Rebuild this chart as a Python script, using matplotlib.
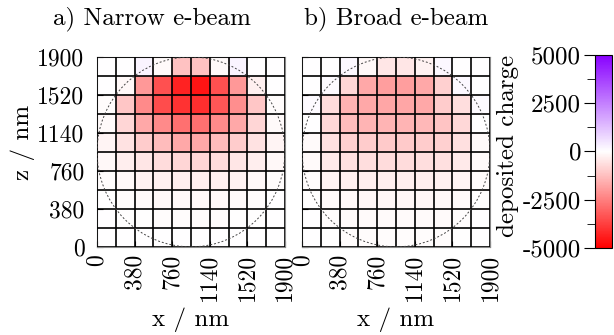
import numpy as np
import matplotlib
matplotlib.use('Agg')
import matplotlib.pyplot as plt
from matplotlib.colors import LinearSegmentedColormap
from matplotlib.patches import Circle

plt.rcParams['font.family'] = ['cmr10', 'DejaVu Serif']
plt.rcParams['axes.formatter.use_mathtext'] = True
plt.rcParams['font.size'] = 18

# cell edges (nm) and tick values
edges = np.arange(0, 1901, 190)
ticks = [0, 380, 760, 1140, 1520, 1900]
cbar_ticks = [-5000, -2500, 0, 2500, 5000]

# deposited charge per cell, rows from z=0 (bottom) to z=1900 (top)
narrow = [
    [0, 0, 0, 0, 0, 0, 0, 0, 0, 0],
    [0, -20, -30, -40, -50, -50, -40, -30, -20, 0],
    [0, -50, -100, -120, -150, -150, -120, -100, -50, 0],
    [-50, -150, -250, -300, -350, -350, -300, -250, -150, -50],
    [-150, -350, -500, -700, -800, -800, -700, -500, -350, -150],
    [-200, -550, -1000, -1300, -1700, -1700, -1300, -1000, -550, -200],
    [-100, -800, -1700, -2300, -2800, -2800, -2300, -1700, -800, -100],
    [-50, -1100, -2300, -3500, -4000, -4100, -3300, -2200, -1100, -50],
    [0, -150, -2000, -3400, -4300, -4600, -3400, -2000, -300, 0],
    [0, 0, 200, -100, -1200, -1200, -100, 200, 0, 0],
]
broad = [
    [0, -20, -40, -60, -60, -60, -60, -40, -20, 0],
    [0, -50, -80, -80, -90, -90, -80, -80, -50, 0],
    [-20, -100, -150, -180, -180, -180, -180, -150, -100, -20],
    [-50, -200, -300, -350, -350, -350, -350, -300, -200, -50],
    [-100, -400, -600, -650, -700, -700, -650, -600, -400, -100],
    [-100, -600, -900, -1000, -1050, -1050, -1000, -900, -600, -100],
    [0, -750, -1300, -1450, -1450, -1450, -1400, -1150, -750, 0],
    [100, -700, -1500, -1700, -1750, -1750, -1700, -1000, -650, 100],
    [0, 100, -800, -1700, -1900, -1900, -1700, -900, 150, 0],
    [0, 0, 150, -150, -500, -500, -250, 150, 0, 0],
]

cmap = LinearSegmentedColormap.from_list('rwp', ['#ff0000', '#ffffff', '#8800ff'])

fig = plt.figure(figsize=(6.14, 3.35), dpi=100)
ax1 = fig.add_axes([0.158, 0.263, 0.306, 0.567])
ax2 = fig.add_axes([0.492, 0.263, 0.306, 0.567])
cax = fig.add_axes([0.969, 0.26, 0.028, 0.576])

for ax, data in [(ax1, narrow), (ax2, broad)]:
    mesh = ax.pcolormesh(edges, edges, np.array(data), cmap=cmap, vmin=-5000, vmax=5000)
    for e in edges:
        ax.axvline(e, color='black', lw=1.2, zorder=3)
        ax.axhline(e, color='black', lw=1.2, zorder=3)
    ax.add_patch(Circle((950, 950), 950, fill=False, ls=(0, (2, 2)), lw=0.7,
                        color='#444444', zorder=4))
    ax.set_xlim(0, 1900)
    ax.set_ylim(0, 1900)
    ax.set_xticks(ticks)
    ax.set_xticklabels([str(t) for t in ticks], rotation=90)
    ax.set_yticks(ticks)
    ax.tick_params(direction='in', length=4, labelsize=17)
    ax.tick_params(axis='x', pad=5)
    ax.tick_params(axis='y', pad=9)
    ax.set_xlabel('x / nm')
    ax.xaxis.set_label_coords(0.5, -0.32)
    for s in ax.spines.values():
        s.set_color('#888888')

ax1.set_yticklabels([str(t) for t in ticks])
ax1.set_ylabel('z / nm')
ax1.yaxis.set_label_coords(-0.33, 0.55)
ax2.set_yticklabels([])

cb = fig.colorbar(mesh, cax=cax)
cb.set_ticks(cbar_ticks)
cb.set_ticklabels([str(t) for t in cbar_ticks])
cb.ax.yaxis.set_ticks_position('left')
cb.ax.yaxis.set_label_position('left')
cb.ax.set_yticks([-3750, -1250, 1250, 3750], minor=True)
cb.ax.tick_params(which='major', direction='out', length=8, pad=2)
cb.ax.tick_params(which='minor', direction='out', length=6)
cb.set_label('deposited charge')
cb.ax.yaxis.set_label_coords(-4.4, 0.53)
cb.outline.set_linewidth(0.8)

fig.text(0.248, 0.943, 'a) Narrow e-beam', ha='center', va='center')
fig.text(0.645, 0.943, 'b) Broad e-beam', ha='center', va='center')

fig.savefig('out.png', dpi=100)
